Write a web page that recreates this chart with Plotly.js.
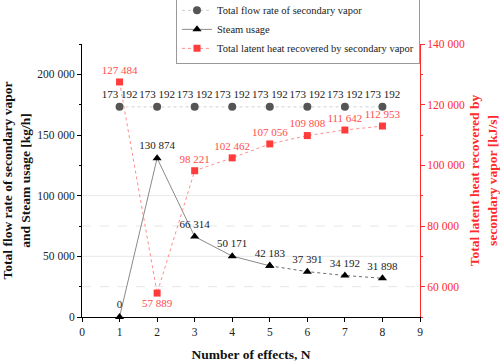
<!DOCTYPE html>
<html>
<head>
<meta charset="utf-8">
<script src="https://cdn.plot.ly/plotly-3.0.1.min.js"></script>
<style>html,body{margin:0;padding:0;background:#fff}#chart{width:500px;height:364px}</style>
</head>
<body>
<div id="chart"></div>
<script>
const effects = [1, 2, 3, 4, 5, 6, 7, 8];
const secondaryVapor = [173192, 173192, 173192, 173192, 173192, 173192, 173192, 173192];
const steamUsage = [0, 130874, 66314, 50171, 42183, 37391, 34192, 31898];
const latentHeat = [127484, 57889, 98221, 102462, 107056, 109808, 111642, 112953];
const latentPos = ['top center', 'bottom center', 'top center', 'top center', 'top center', 'top center', 'top center', 'top center'];

function fmt(v) { return String(Math.round(v)).replace(/\B(?=(\d{3})+(?!\d))/g, ' '); }

const serif = 'Liberation Serif';
const split = 4; // steam line drawn solid up to effect 5, dotted after

const steamText = steamUsage.map(fmt);

const traces = [
  {
    x: effects, y: secondaryVapor, name: 'Total flow rate of secondary vapor',
    mode: 'lines+markers+text', text: secondaryVapor.map(fmt), textposition: 'top center',
    textfont: {family: serif, size: 11, color: '#222'},
    line: {color: '#d0d0d0', width: 1, dash: 'dot'},
    marker: {symbol: 'circle', size: 8, color: '#555555'},
    cliponaxis: false
  },
  {
    x: effects.slice(0, split + 1), y: steamUsage.slice(0, split + 1), name: 'Steam usage',
    mode: 'lines+markers+text', text: steamText.slice(0, split + 1), textposition: 'top center',
    textfont: {family: serif, size: 11, color: '#222'},
    line: {color: '#8a8a8a', width: 1},
    marker: {symbol: 'triangle-up', size: 8, color: '#000'},
    legendgroup: 'steam',
    cliponaxis: false
  },
  {
    x: effects.slice(split), y: steamUsage.slice(split), name: 'Steam usage', showlegend: false,
    mode: 'lines+markers+text', text: steamText.slice(split).map((t, i) => i === 0 ? '' : t), textposition: 'top center',
    textfont: {family: serif, size: 11, color: '#222'},
    line: {color: '#6a6a6a', width: 1, dash: 'dot'},
    marker: {symbol: 'triangle-up', size: 8, color: '#000'},
    legendgroup: 'steam',
    cliponaxis: false
  },
  {
    x: effects, y: latentHeat, name: 'Total latent heat recovered by secondary vapor',
    yaxis: 'y2',
    mode: 'lines+markers+text', text: latentHeat.map(fmt), textposition: latentPos,
    textfont: {family: serif, size: 11, color: '#ff4d4d'},
    line: {color: '#ff8c8c', width: 1, dash: 'dot'},
    marker: {symbol: 'square', size: 7, color: '#ff3b3b'},
    cliponaxis: false
  }
];

const gridVals = [25000, 50000, 75000, 100000];
const shapes = gridVals.map((v, i) => ({
  type: 'line', xref: 'paper', x0: 0, x1: 1, yref: 'y', y0: v, y1: v,
  line: {color: i % 2 === 0 ? '#e6e6e6' : '#e8e8e8', width: 1, dash: i % 2 === 0 ? 'dash' : 'solid'},
  layer: 'below'
}));

const layout = {
  width: 500, height: 364,
  margin: {l: 82, r: 80, t: 44, b: 47, autoexpand: false},
  paper_bgcolor: '#fff', plot_bgcolor: '#fff',
  font: {family: serif, size: 12, color: '#222'},
  showlegend: true,
  legend: {
    x: 1, xanchor: 'right', y: 1.18, yanchor: 'top',
    bgcolor: 'rgba(255,255,255,0.9)', bordercolor: '#999', borderwidth: 1,
    font: {family: serif, size: 10.5, color: '#222'},
    tracegroupgap: 0
  },
  xaxis: {
    range: [0, 9], dtick: 1, tick0: 0,
    showline: true, linecolor: '#000', linewidth: 1,
    ticks: 'outside', ticklen: 4, tickcolor: '#000',
    showgrid: false, zeroline: false,
    tickfont: {family: serif, size: 11.5, color: '#222'},
    title: {text: '<b>Number of effects, N</b>', font: {family: serif, size: 13.5, color: '#111'}, standoff: 12}
  },
  yaxis: {
    range: [0, 225000], dtick: 50000, tick0: 0,
    showline: true, linecolor: '#000', linewidth: 1,
    ticks: 'outside', ticklen: 4, tickcolor: '#000',
    minor: {dtick: 25000, ticks: 'outside', ticklen: 2, tickcolor: '#000', showgrid: false},
    showgrid: false, zeroline: false,
    tickformat: ',d',
    tickfont: {family: serif, size: 11.5, color: '#222'},
    title: {text: '<b>Total flow rate of secondary vapor<br>and Steam usage [kg/h]</b>', font: {family: serif, size: 13.5, color: '#111'}, standoff: 10}
  },
  yaxis2: {
    overlaying: 'y', side: 'right',
    range: [50000, 140000], dtick: 20000, tick0: 0,
    showline: true, linecolor: '#ff2a2a', linewidth: 1,
    ticks: 'outside', ticklen: 4, tickcolor: '#ff2a2a',
    minor: {dtick: 10000, ticks: 'outside', ticklen: 2, tickcolor: '#ff2a2a', showgrid: false},
    showgrid: false, zeroline: false,
    tickformat: ',d',
    tickfont: {family: serif, size: 11.5, color: '#ff2a2a'},
    title: {text: '<b>Total latent heat recovered by<br>secondary vapor [kJ/s]</b>', font: {family: serif, size: 13.5, color: '#ff2a2a'}, standoff: 12}
  },
  separators: '. ',
  shapes: shapes
};

Plotly.newPlot('chart', traces, layout, {displayModeBar: false, staticPlot: true});
</script>
</body>
</html>
